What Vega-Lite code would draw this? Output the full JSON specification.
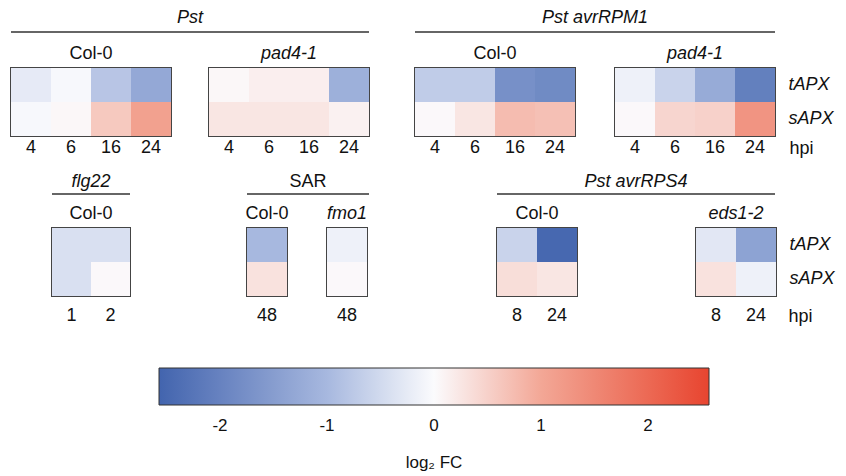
{
"$schema": "https://vega.github.io/schema/vega-lite/v6.json",
"padding": {"left": 10, "top": 9, "right": 5, "bottom": 5},
"data": {"values": [
{"treatment":"Pst","genotype":"Col-0","hpi":"4","gene":"tAPX","value":-0.25},
{"treatment":"Pst","genotype":"Col-0","hpi":"6","gene":"tAPX","value":-0.05},
{"treatment":"Pst","genotype":"Col-0","hpi":"16","gene":"tAPX","value":-0.8},
{"treatment":"Pst","genotype":"Col-0","hpi":"24","gene":"tAPX","value":-1.3},
{"treatment":"Pst","genotype":"Col-0","hpi":"4","gene":"sAPX","value":-0.05},
{"treatment":"Pst","genotype":"Col-0","hpi":"6","gene":"sAPX","value":0.05},
{"treatment":"Pst","genotype":"Col-0","hpi":"16","gene":"sAPX","value":0.6},
{"treatment":"Pst","genotype":"Col-0","hpi":"24","gene":"sAPX","value":1.1},
{"treatment":"Pst","genotype":"pad4-1","hpi":"4","gene":"tAPX","value":0.05},
{"treatment":"Pst","genotype":"pad4-1","hpi":"6","gene":"tAPX","value":0.15},
{"treatment":"Pst","genotype":"pad4-1","hpi":"16","gene":"tAPX","value":0.15},
{"treatment":"Pst","genotype":"pad4-1","hpi":"24","gene":"tAPX","value":-1.15},
{"treatment":"Pst","genotype":"pad4-1","hpi":"4","gene":"sAPX","value":0.25},
{"treatment":"Pst","genotype":"pad4-1","hpi":"6","gene":"sAPX","value":0.25},
{"treatment":"Pst","genotype":"pad4-1","hpi":"16","gene":"sAPX","value":0.25},
{"treatment":"Pst","genotype":"pad4-1","hpi":"24","gene":"sAPX","value":0.12},
{"treatment":"Pst avrRPM1","genotype":"Col-0","hpi":"4","gene":"tAPX","value":-0.7},
{"treatment":"Pst avrRPM1","genotype":"Col-0","hpi":"6","gene":"tAPX","value":-0.7},
{"treatment":"Pst avrRPM1","genotype":"Col-0","hpi":"16","gene":"tAPX","value":-1.75},
{"treatment":"Pst avrRPM1","genotype":"Col-0","hpi":"24","gene":"tAPX","value":-1.85},
{"treatment":"Pst avrRPM1","genotype":"Col-0","hpi":"4","gene":"sAPX","value":0.03},
{"treatment":"Pst avrRPM1","genotype":"Col-0","hpi":"6","gene":"sAPX","value":0.25},
{"treatment":"Pst avrRPM1","genotype":"Col-0","hpi":"16","gene":"sAPX","value":0.75},
{"treatment":"Pst avrRPM1","genotype":"Col-0","hpi":"24","gene":"sAPX","value":0.7},
{"treatment":"Pst avrRPM1","genotype":"pad4-1","hpi":"4","gene":"tAPX","value":-0.15},
{"treatment":"Pst avrRPM1","genotype":"pad4-1","hpi":"6","gene":"tAPX","value":-0.6},
{"treatment":"Pst avrRPM1","genotype":"pad4-1","hpi":"16","gene":"tAPX","value":-1.25},
{"treatment":"Pst avrRPM1","genotype":"pad4-1","hpi":"24","gene":"tAPX","value":-2.05},
{"treatment":"Pst avrRPM1","genotype":"pad4-1","hpi":"4","gene":"sAPX","value":0.03},
{"treatment":"Pst avrRPM1","genotype":"pad4-1","hpi":"6","gene":"sAPX","value":0.45},
{"treatment":"Pst avrRPM1","genotype":"pad4-1","hpi":"16","gene":"sAPX","value":0.5},
{"treatment":"Pst avrRPM1","genotype":"pad4-1","hpi":"24","gene":"sAPX","value":1.3},
{"treatment":"flg22","genotype":"Col-0","hpi":"1","gene":"tAPX","value":-0.4},
{"treatment":"flg22","genotype":"Col-0","hpi":"2","gene":"tAPX","value":-0.4},
{"treatment":"flg22","genotype":"Col-0","hpi":"1","gene":"sAPX","value":-0.4},
{"treatment":"flg22","genotype":"Col-0","hpi":"2","gene":"sAPX","value":0.03},
{"treatment":"SAR","genotype":"Col-0","hpi":"48","gene":"tAPX","value":-1.0},
{"treatment":"SAR","genotype":"Col-0","hpi":"48","gene":"sAPX","value":0.3},
{"treatment":"SAR","genotype":"fmo1","hpi":"48","gene":"tAPX","value":-0.15},
{"treatment":"SAR","genotype":"fmo1","hpi":"48","gene":"sAPX","value":0.03},
{"treatment":"Pst avrRPS4","genotype":"Col-0","hpi":"8","gene":"tAPX","value":-0.6},
{"treatment":"Pst avrRPS4","genotype":"Col-0","hpi":"24","gene":"tAPX","value":-2.5},
{"treatment":"Pst avrRPS4","genotype":"Col-0","hpi":"8","gene":"sAPX","value":0.35},
{"treatment":"Pst avrRPS4","genotype":"Col-0","hpi":"24","gene":"sAPX","value":0.25},
{"treatment":"Pst avrRPS4","genotype":"eds1-2","hpi":"8","gene":"tAPX","value":-0.3},
{"treatment":"Pst avrRPS4","genotype":"eds1-2","hpi":"24","gene":"tAPX","value":-1.4},
{"treatment":"Pst avrRPS4","genotype":"eds1-2","hpi":"8","gene":"sAPX","value":0.3},
{"treatment":"Pst avrRPS4","genotype":"eds1-2","hpi":"24","gene":"sAPX","value":-0.15}
]},
"spacing": 15,
"vconcat": [
 {"spacing": 44, "hconcat": [
  {"spacing": 11, "vconcat": [
   {"width": 358, "height": 2, "data": {"values": [{"label": "Pst"}]}, "view": {"stroke": null},
    "title": {"text": "Pst", "fontStyle": "italic", "offset": 3},
    "mark": {"type": "rule", "color": "#333", "strokeWidth": 1.3},
    "encoding": {"x": {"datum": 0, "type": "quantitative", "scale": {"domain": [0, 1]}, "axis": null}, "x2": {"datum": 1},
                 "y": {"datum": 0, "type": "quantitative", "scale": {"domain": [0, 1]}, "axis": null}}},
   {"spacing": 36, "hconcat": [
    {"width": 160, "height": 68, "transform": [{"filter": "datum.treatment === 'Pst' && datum.genotype === 'Col-0'"}],
     "title": {"text": "Col-0"}, "mark": "rect",
     "encoding": {"x": {"field": "hpi", "type": "ordinal", "sort": null, "axis": {"title": null, "labelPadding": 2}},
      "y": {"field": "gene", "type": "nominal", "sort": ["tAPX", "sAPX"], "axis": null},
      "color": {"field": "value", "type": "quantitative", "title": "log₂ FC", "scale": {"domain": [-2.57, -1, 0, 1, 2.57], "range": ["#4264ae", "#a7b8df", "#fbfbfd", "#f3a796", "#e8452f"], "interpolate": "rgb"},
       "legend": {"orient": "none", "legendX": 148, "legendY": 338, "direction": "horizontal", "gradientLength": 550, "gradientThickness": 37, "values": [-2, -1, 0, 1, 2], "labelExpr": "'' + datum.value", "labelOffset": 13, "titlePadding": 21, "titleOrient": "bottom", "titleAnchor": "middle"}}}},
    {"width": 160, "height": 68, "transform": [{"filter": "datum.treatment === 'Pst' && datum.genotype === 'pad4-1'"}],
     "title": {"text": "pad4-1", "fontStyle": "italic"}, "mark": "rect",
     "encoding": {"x": {"field": "hpi", "type": "ordinal", "sort": null, "axis": {"title": null, "labelPadding": 2}},
      "y": {"field": "gene", "type": "nominal", "sort": ["tAPX", "sAPX"], "axis": null},
      "color": {"field": "value", "type": "quantitative", "title": "log₂ FC", "scale": {"domain": [-2.57, -1, 0, 1, 2.57], "range": ["#4264ae", "#a7b8df", "#fbfbfd", "#f3a796", "#e8452f"], "interpolate": "rgb"}}}}
   ]}
  ]},
  {"spacing": 11, "vconcat": [
   {"width": 360, "height": 2, "data": {"values": [{"label": "Pst avrRPM1"}]}, "view": {"stroke": null},
    "title": {"text": "Pst avrRPM1", "fontStyle": "italic", "offset": 3},
    "mark": {"type": "rule", "color": "#333", "strokeWidth": 1.3},
    "encoding": {"x": {"datum": 0, "type": "quantitative", "scale": {"domain": [0, 1]}, "axis": null}, "x2": {"datum": 1},
                 "y": {"datum": 0, "type": "quantitative", "scale": {"domain": [0, 1]}, "axis": null}}},
   {"spacing": 38, "hconcat": [
    {"width": 160, "height": 68, "transform": [{"filter": "datum.treatment === 'Pst avrRPM1' && datum.genotype === 'Col-0'"}],
     "title": {"text": "Col-0"}, "mark": "rect",
     "encoding": {"x": {"field": "hpi", "type": "ordinal", "sort": null, "axis": {"title": null, "labelPadding": 2}},
      "y": {"field": "gene", "type": "nominal", "sort": ["tAPX", "sAPX"], "axis": null},
      "color": {"field": "value", "type": "quantitative", "title": "log₂ FC", "scale": {"domain": [-2.57, -1, 0, 1, 2.57], "range": ["#4264ae", "#a7b8df", "#fbfbfd", "#f3a796", "#e8452f"], "interpolate": "rgb"}}}},
    {"width": 160, "height": 68, "transform": [{"filter": "datum.treatment === 'Pst avrRPM1' && datum.genotype === 'pad4-1'"}],
     "title": {"text": "pad4-1", "fontStyle": "italic"}, "mark": "rect",
     "encoding": {"x": {"field": "hpi", "type": "ordinal", "sort": null, "axis": {"title": "hpi", "labelPadding": 2, "titleX": 174, "titleY": 12, "titleAlign": "left", "titleBaseline": "middle", "titleFontWeight": "normal", "titleFontSize": 18, "titleColor": "#111"}},
      "y": {"field": "gene", "type": "nominal", "sort": ["tAPX", "sAPX"], "axis": {"orient": "right", "title": null, "labelFontStyle": "italic", "labelPadding": 13}},
      "color": {"field": "value", "type": "quantitative", "title": "log₂ FC", "scale": {"domain": [-2.57, -1, 0, 1, 2.57], "range": ["#4264ae", "#a7b8df", "#fbfbfd", "#f3a796", "#e8452f"], "interpolate": "rgb"}}}}
   ]}
  ]}
 ]},
 {"spacing": 39, "hconcat": [
  {"width": 1, "height": 1, "data": {"values": []}, "view": {"stroke": null}, "mark": {"type": "rect", "opacity": 0}, "encoding": {}},
  {"spacing": 126, "hconcat": [
   {"spacing": 113, "hconcat": [
    {"spacing": 9, "vconcat": [
     {"width": 78, "height": 2, "data": {"values": [{"label": "flg22"}]}, "view": {"stroke": null},
      "title": {"text": "flg22", "fontStyle": "italic", "offset": 1},
      "mark": {"type": "rule", "color": "#333", "strokeWidth": 1.3},
      "encoding": {"x": {"datum": 0, "type": "quantitative", "scale": {"domain": [0, 1]}, "axis": null}, "x2": {"datum": 1},
                   "y": {"datum": 0, "type": "quantitative", "scale": {"domain": [0, 1]}, "axis": null}}},
     {"width": 78, "height": 68, "transform": [{"filter": "datum.treatment === 'flg22' && datum.genotype === 'Col-0'"}],
      "title": {"text": "Col-0"}, "mark": "rect",
      "encoding": {"x": {"field": "hpi", "type": "ordinal", "sort": null, "axis": {"title": null, "labelPadding": 10}},
       "y": {"field": "gene", "type": "nominal", "sort": ["tAPX", "sAPX"], "axis": null},
       "color": {"field": "value", "type": "quantitative", "title": "log₂ FC", "scale": {"domain": [-2.57, -1, 0, 1, 2.57], "range": ["#4264ae", "#a7b8df", "#fbfbfd", "#f3a796", "#e8452f"], "interpolate": "rgb"}}}}
    ]},
    {"spacing": 9, "vconcat": [
     {"width": 122, "height": 2, "data": {"values": [{"label": "SAR"}]}, "view": {"stroke": null},
      "title": {"text": "SAR", "offset": 1},
      "mark": {"type": "rule", "color": "#333", "strokeWidth": 1.3},
      "encoding": {"x": {"datum": 0, "type": "quantitative", "scale": {"domain": [0, 1]}, "axis": null}, "x2": {"datum": 1},
                   "y": {"datum": 0, "type": "quantitative", "scale": {"domain": [0, 1]}, "axis": null}}},
     {"spacing": 35, "hconcat": [
      {"width": 40, "height": 68, "transform": [{"filter": "datum.treatment === 'SAR' && datum.genotype === 'Col-0'"}],
       "title": {"text": "Col-0"}, "mark": "rect",
       "encoding": {"x": {"field": "hpi", "type": "ordinal", "sort": null, "axis": {"title": null, "labelPadding": 10}},
        "y": {"field": "gene", "type": "nominal", "sort": ["tAPX", "sAPX"], "axis": null},
        "color": {"field": "value", "type": "quantitative", "title": "log₂ FC", "scale": {"domain": [-2.57, -1, 0, 1, 2.57], "range": ["#4264ae", "#a7b8df", "#fbfbfd", "#f3a796", "#e8452f"], "interpolate": "rgb"}}}},
      {"width": 40, "height": 68, "transform": [{"filter": "datum.treatment === 'SAR' && datum.genotype === 'fmo1'"}],
       "title": {"text": "fmo1", "fontStyle": "italic"}, "mark": "rect",
       "encoding": {"x": {"field": "hpi", "type": "ordinal", "sort": null, "axis": {"title": null, "labelPadding": 10}},
        "y": {"field": "gene", "type": "nominal", "sort": ["tAPX", "sAPX"], "axis": null},
        "color": {"field": "value", "type": "quantitative", "title": "log₂ FC", "scale": {"domain": [-2.57, -1, 0, 1, 2.57], "range": ["#4264ae", "#a7b8df", "#fbfbfd", "#f3a796", "#e8452f"], "interpolate": "rgb"}}}}
     ]}
    ]}
   ]},
   {"spacing": 9, "vconcat": [
    {"width": 278, "height": 2, "data": {"values": [{"label": "Pst avrRPS4"}]}, "view": {"stroke": null},
     "title": {"text": "Pst avrRPS4", "fontStyle": "italic", "offset": 1},
     "mark": {"type": "rule", "color": "#333", "strokeWidth": 1.3},
     "encoding": {"x": {"datum": 0, "type": "quantitative", "scale": {"domain": [0, 1]}, "axis": null}, "x2": {"datum": 1},
                  "y": {"datum": 0, "type": "quantitative", "scale": {"domain": [0, 1]}, "axis": null}}},
    {"spacing": 117, "hconcat": [
     {"width": 80, "height": 68, "transform": [{"filter": "datum.treatment === 'Pst avrRPS4' && datum.genotype === 'Col-0'"}],
      "title": {"text": "Col-0"}, "mark": "rect",
      "encoding": {"x": {"field": "hpi", "type": "ordinal", "sort": null, "axis": {"title": null, "labelPadding": 10}},
       "y": {"field": "gene", "type": "nominal", "sort": ["tAPX", "sAPX"], "axis": null},
       "color": {"field": "value", "type": "quantitative", "title": "log₂ FC", "scale": {"domain": [-2.57, -1, 0, 1, 2.57], "range": ["#4264ae", "#a7b8df", "#fbfbfd", "#f3a796", "#e8452f"], "interpolate": "rgb"}}}},
     {"width": 80, "height": 68, "transform": [{"filter": "datum.treatment === 'Pst avrRPS4' && datum.genotype === 'eds1-2'"}],
      "title": {"text": "eds1-2", "fontStyle": "italic"}, "mark": "rect",
      "encoding": {"x": {"field": "hpi", "type": "ordinal", "sort": null, "axis": {"title": "hpi", "labelPadding": 10, "titleX": 92, "titleY": 20, "titleAlign": "left", "titleBaseline": "middle", "titleFontWeight": "normal", "titleFontSize": 18, "titleColor": "#111"}},
       "y": {"field": "gene", "type": "nominal", "sort": ["tAPX", "sAPX"], "axis": {"orient": "right", "title": null, "labelFontStyle": "italic", "labelPadding": 13}},
       "color": {"field": "value", "type": "quantitative", "title": "log₂ FC", "scale": {"domain": [-2.57, -1, 0, 1, 2.57], "range": ["#4264ae", "#a7b8df", "#fbfbfd", "#f3a796", "#e8452f"], "interpolate": "rgb"}}}}
    ]}
   ]}
  ]}
 ]}
],
"config": {
 "font": "Liberation Sans",
 "view": {"stroke": "#444", "strokeWidth": 2},
 "title": {"fontSize": 18, "fontWeight": "normal", "color": "#111", "offset": 5},
 "axis": {"labelFontSize": 18, "labelColor": "#111", "ticks": false, "domain": false, "grid": false, "labelAngle": 0},
 "legend": {"labelFontSize": 17, "labelColor": "#111", "titleFontSize": 17, "titleFontWeight": "normal", "titleColor": "#111", "gradientStrokeColor": "#333", "gradientStrokeWidth": 1, "padding": 0}
}
}
